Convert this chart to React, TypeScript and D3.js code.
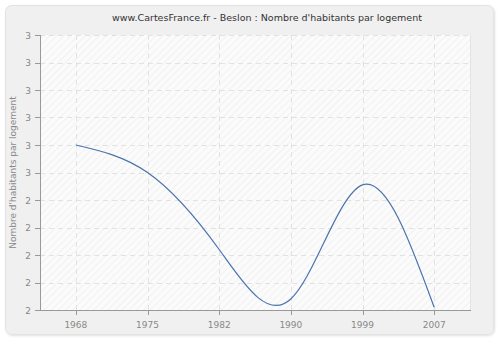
import React from "react";
import * as d3 from "d3";

const years = ["1968", "1975", "1982", "1990", "1999", "2007"];
const values = [2.6, 2.5, 2.22, 2.04, 2.455, 2.01];
const yTicks = [2.0, 2.1, 2.2, 2.3, 2.4, 2.5, 2.6, 2.7, 2.8, 2.9, 3.0];

const W = 500, H = 340;
const M = { left: 40, right: 470, top: 35, bottom: 310 };

export default function App() {
  const x = d3.scalePoint<string>().domain(years).range([M.left, M.right]).padding(0.5);
  const y = d3.scaleLinear().domain([2, 3]).range([M.bottom, M.top]);
  const line = d3
    .line<number>()
    .x((_, i) => x(years[i]) as number)
    .y((d) => y(d))
    .curve(d3.curveNatural);
  const font = "'DejaVu Sans', Verdana, sans-serif";
  return (
    <svg width={W} height={H} style={{ position: "fixed", left: 0, top: 0 }} fontFamily={font}>
      <defs>
        <pattern id="hatch" width="5" height="5" patternUnits="userSpaceOnUse" patternTransform="rotate(45)">
          <rect width="5" height="5" fill="#fbfbfb" />
          <line x1="0" y1="0" x2="0" y2="5" stroke="#eeeeee" strokeWidth="1.5" />
        </pattern>
        <filter id="sh" x="-5%" y="-5%" width="110%" height="110%">
          <feDropShadow dx="1" dy="1" stdDeviation="1" floodColor="#000" floodOpacity="0.12" />
        </filter>
      </defs>
      <rect x={0} y={0} width={W} height={H} fill="#ffffff" />
      <rect x={5.5} y={5.5} width={488} height={329} rx={6} fill="#f0f0f0" stroke="#e2e2e2" filter="url(#sh)" />
      <text x={267} y={21} textAnchor="middle" fontSize={9.5} fill="#333">
        www.CartesFrance.fr - Beslon : Nombre d'habitants par logement
      </text>
      <rect x={M.left} y={M.top} width={M.right - M.left} height={M.bottom - M.top} fill="url(#hatch)" />
      {yTicks.map((t) => (
        <line key={"gy" + t} x1={M.left} x2={M.right} y1={Math.round(y(t)) + 0.5} y2={Math.round(y(t)) + 0.5}
          stroke="#e2e2e2" strokeDasharray="5,4" />
      ))}
      {years.map((yr) => (
        <line key={"gx" + yr} x1={Math.round(x(yr) as number) + 0.5} x2={Math.round(x(yr) as number) + 0.5}
          y1={M.top} y2={M.bottom} stroke="#e2e2e2" strokeDasharray="5,4" />
      ))}
      <line x1={M.right + 0.5} x2={M.right + 0.5} y1={M.top} y2={M.bottom} stroke="#e4e4e4" />
      <path d={line(values) || ""} fill="none" stroke="#4a74ad" strokeWidth={1.2} />
      <line x1={M.left + 0.5} x2={M.left + 0.5} y1={M.top} y2={M.bottom + 0.5} stroke="#999" />
      <line x1={M.left} x2={M.right + 1} y1={M.bottom + 0.5} y2={M.bottom + 0.5} stroke="#999" />
      {yTicks.map((t) => (
        <g key={"ty" + t}>
          <line x1={M.left - 5} x2={M.left} y1={Math.round(y(t)) + 0.5} y2={Math.round(y(t)) + 0.5} stroke="#999" />
          <text x={M.left - 9} y={y(t) + 3.5} textAnchor="end" fontSize={9} fill="#888">
            {d3.format(".0f")(t)}
          </text>
        </g>
      ))}
      {years.map((yr) => (
        <g key={"tx" + yr}>
          <line x1={Math.round(x(yr) as number) + 0.5} x2={Math.round(x(yr) as number) + 0.5}
            y1={M.bottom} y2={M.bottom + 5} stroke="#999" />
          <text x={x(yr) as number} y={M.bottom + 18} textAnchor="middle" fontSize={9} fill="#888">
            {yr}
          </text>
        </g>
      ))}
      <text transform={`translate(16,${(M.top + M.bottom) / 2}) rotate(-90)`} textAnchor="middle" fontSize={9} fill="#888">
        Nombre d'habitants par logement
      </text>
    </svg>
  );
}
